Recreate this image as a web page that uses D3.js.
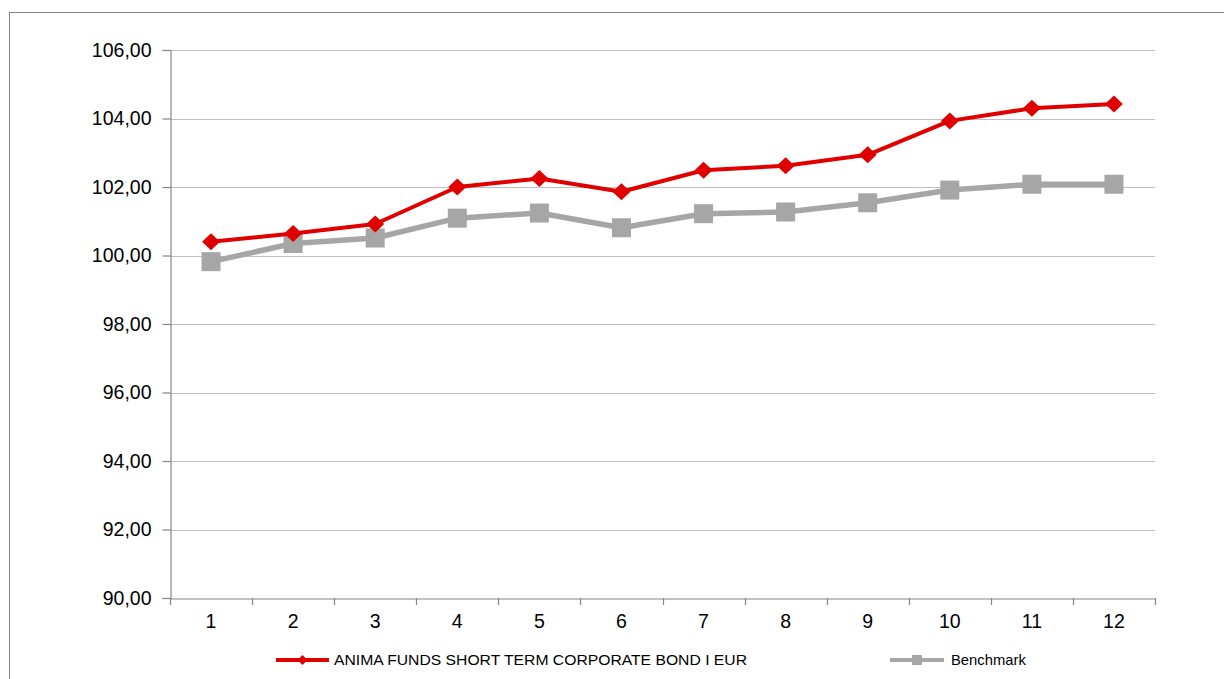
<!DOCTYPE html>
<html>
<head>
<meta charset="utf-8">
<script src="https://cdn.jsdelivr.net/npm/d3@7"></script>
<style>
  html, body { margin: 0; padding: 0; background: #fff; }
  svg { display: block; font-family: "Liberation Sans", Arial, sans-serif; }
</style>
</head>
<body>
<svg id="chart" width="1224" height="679"></svg>
<script>
const categories = ["1","2","3","4","5","6","7","8","9","10","11","12"];
const fundValues = [100.40, 100.64, 100.92, 102.00, 102.25, 101.86, 102.49, 102.62, 102.94, 103.93, 104.30, 104.42];
const benchValues = [99.82, 100.35, 100.51, 101.09, 101.24, 100.81, 101.22, 101.27, 101.54, 101.91, 102.08, 102.08];
const yTicks = [90, 92, 94, 96, 98, 100, 102, 104, 106];
const seriesNames = ["ANIMA FUNDS SHORT TERM CORPORATE BOND I EUR", "Benchmark"];

const svg = d3.select("#chart");
const pLeft = 170, pRight = 1155, pTop = 50, pBottom = 598;

// outer frame
svg.append("rect").attr("x", 9.5).attr("y", 12.5).attr("width", 1230).attr("height", 700)
  .attr("fill", "none").attr("stroke", "#868686").attr("stroke-width", 1);

const x = d3.scaleBand().domain(categories).range([pLeft, pRight]).paddingInner(0).paddingOuter(0);
const y = d3.scaleLinear().domain([90, 106]).range([pBottom, pTop]);
const fmt = v => d3.format(".2f")(v).replace(".", ",");

// gridlines
svg.append("g").selectAll("line").data(yTicks.filter(t => t !== 90)).join("line")
  .attr("x1", pLeft).attr("x2", pRight)
  .attr("y1", d => Math.round(y(d)) + 0.5).attr("y2", d => Math.round(y(d)) + 0.5)
  .attr("stroke", "#BFBFBF").attr("stroke-width", 1.2);

// y axis
const yAxis = svg.append("g").attr("transform", `translate(${pLeft + 0.5},0)`)
  .call(d3.axisLeft(y).tickValues(yTicks).tickFormat(fmt).tickSize(8).tickPadding(11));
yAxis.select(".domain").attr("stroke", "#868686").attr("stroke-width", 1.2);
yAxis.selectAll(".tick line").attr("stroke", "#868686").attr("stroke-width", 1.2);
yAxis.selectAll(".tick text").attr("font-size", 19.5).attr("fill", "#000")
  .attr("font-family", "Liberation Sans, Arial, sans-serif");

// x axis
const xAxis = svg.append("g").attr("transform", `translate(0,${pBottom + 0.5})`)
  .call(d3.axisBottom(x).tickSize(0).tickPadding(16));
xAxis.select(".domain").attr("stroke", "#868686").attr("stroke-width", 1.2);
xAxis.selectAll(".tick text").attr("font-size", 19.5).attr("fill", "#000")
  .attr("font-family", "Liberation Sans, Arial, sans-serif");
// boundary ticks
const bounds = categories.map(c => x(c)).concat([x(categories[categories.length - 1]) + x.bandwidth()]);
svg.append("g").selectAll("line").data(bounds).join("line")
  .attr("x1", d => Math.round(d) + 0.5).attr("x2", d => Math.round(d) + 0.5)
  .attr("y1", pBottom).attr("y2", pBottom + 7)
  .attr("stroke", "#868686").attr("stroke-width", 1.2);

const cx = c => x(c) + x.bandwidth() / 2;
const line = d3.line().x(d => cx(d.c)).y(d => y(d.v));
const fundData = categories.map((c, i) => ({ c, v: fundValues[i] }));
const benchData = categories.map((c, i) => ({ c, v: benchValues[i] }));

// benchmark series
svg.append("path").datum(benchData).attr("d", line)
  .attr("fill", "none").attr("stroke", "#A6A6A6").attr("stroke-width", 5.5).attr("stroke-linejoin", "round");
svg.append("g").selectAll("rect").data(benchData).join("rect")
  .attr("x", d => cx(d.c) - 9.5).attr("y", d => y(d.v) - 9.5)
  .attr("width", 19).attr("height", 19).attr("fill", "#A6A6A6");

// fund series
svg.append("path").datum(fundData).attr("d", line)
  .attr("fill", "none").attr("stroke", "#E00000").attr("stroke-width", 4).attr("stroke-linejoin", "round");
const diamond = (px, py, w, h) => `M${px},${py - h}L${px + w},${py}L${px},${py + h}L${px - w},${py}Z`;
svg.append("g").selectAll("path").data(fundData).join("path")
  .attr("d", d => diamond(cx(d.c), y(d.v), 9, 8.5)).attr("fill", "#E00000");

// legend
const ly = 660;
const leg = svg.append("g");
leg.append("line").attr("x1", 276).attr("x2", 329).attr("y1", ly).attr("y2", ly)
  .attr("stroke", "#E00000").attr("stroke-width", 4);
leg.append("path").attr("d", diamond(302.5, ly, 5, 5)).attr("fill", "#E00000");
leg.append("text").attr("x", 334).attr("y", ly + 5).attr("font-size", 14.8).attr("fill", "#000")
  .attr("textLength", 413).attr("lengthAdjust", "spacingAndGlyphs")
  .text(seriesNames[0]);
leg.append("line").attr("x1", 890).attr("x2", 944).attr("y1", ly).attr("y2", ly)
  .attr("stroke", "#A6A6A6").attr("stroke-width", 4);
leg.append("rect").attr("x", 912).attr("y", ly - 5).attr("width", 10).attr("height", 10).attr("fill", "#A6A6A6");
leg.append("text").attr("x", 951).attr("y", ly + 5).attr("font-size", 14.8).attr("fill", "#000")
  .text(seriesNames[1]);
</script>
</body>
</html>
